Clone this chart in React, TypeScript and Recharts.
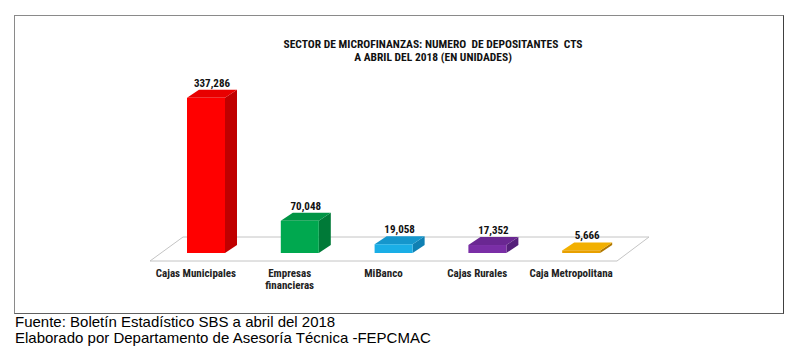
import React from "react";
import { BarChart, Bar, XAxis, YAxis, LabelList, ReferenceLine, Cell } from "recharts";

const categories = ["Cajas Municipales", "Empresas financieras", "MiBanco", "Cajas Rurales", "Caja Metropolitana"];
const depositantes = [337286, 70048, 19058, 17352, 5666];
const tickLabels = [["Cajas Municipales"], ["Empresas", "financieras"], ["MiBanco"], ["Cajas Rurales"], ["Caja Metropolitana"]];

const FRONT = ["#ff0000", "#00a84f", "#1aaee6", "#7a2ea6", "#e8a000"];
const SIDE = ["#c00000", "#007a38", "#0f80b3", "#55207a", "#b07800"];
const TOP = ["#e80000", "#009445", "#1596cc", "#6a2792", "#f2b000"];

const data = categories.map((name, i) => ({ name, value: depositantes[i] }));

const narrow = '"Liberation Sans Narrow", "Arial Narrow", "Roboto Condensed", sans-serif';

const DX = 12;
const DY = 8;

const Box3D = (props: any) => {
  const { x, y, width, height, index } = props;
  const fx = x - DX / 2;
  const r = fx + width;
  const b = y + height;
  return (
    <g>
      <polygon points={`${r},${y} ${r + DX},${y - DY} ${r + DX},${b - DY} ${r},${b}`} fill={SIDE[index]} />
      <polygon points={`${fx},${y} ${fx + DX},${y - DY} ${r + DX},${y - DY} ${r},${y}`} fill={TOP[index]} />
      <rect x={fx} y={y} width={width} height={height} fill={FRONT[index]} />
    </g>
  );
};

// floor of the 3D chart, drawn from the zero line
const Floor = (props: any) => {
  const { x1, x2, y1 } = props;
  const pts = [
    [x1 - 15, y1 + 8],
    [x2 - 17, y1 + 8],
    [x2 + 15, y1 - 16],
    [x1 + 18, y1 - 16],
  ];
  return <polygon points={pts.map((p) => p.join(",")).join(" ")} fill="#ffffff" stroke="#c4c4c4" strokeWidth={1} />;
};

const Tick = (props: any) => {
  const { x, y, index } = props;
  const lines = tickLabels[index] || [];
  return (
    <text x={x - 16} y={y + 16} textAnchor="middle" fontFamily={narrow} fontWeight="bold" fontSize={11} fill="#222">
      {lines.map((l, i) => (
        <tspan key={i} x={x - 16} dy={i === 0 ? 0 : 12}>
          {l}
        </tspan>
      ))}
    </text>
  );
};

const ValueLabel = (props: any) => {
  const { x, y, width, value } = props;
  return (
    <text x={x + width / 2} y={y - 11} textAnchor="middle" fontFamily={narrow} fontWeight="bold" fontSize={11} fill="#111">
      {Number(value).toLocaleString("en-US")}
    </text>
  );
};

export default function App() {
  return (
    <div style={{ position: "relative", margin: -8, width: 800, height: 357, background: "#fff" }}>
      <div
        style={{
          position: "absolute",
          left: 14,
          top: 15,
          width: 768,
          height: 297,
          borderTop: "1px solid #8a8a8a",
          borderLeft: "1px solid #8a8a8a",
          borderRight: "1px solid #404040",
          borderBottom: "1px solid #606060",
        }}
      />
      <div
        style={{
          position: "absolute",
          left: 233,
          top: 38,
          width: 400,
          textAlign: "center",
          fontFamily: narrow,
          fontWeight: "bold",
          fontSize: 11.5,
          lineHeight: "13px",
          color: "#111",
        }}
      >
        <div>SECTOR DE MICROFINANZAS: NUMERO&nbsp; DE DEPOSITANTES&nbsp; CTS</div>
        <div>A ABRIL DEL 2018 (EN UNIDADES)</div>
      </div>
      <div style={{ position: "absolute", left: 0, top: 0 }}>
        <BarChart width={800} height={357} data={data} margin={{ top: 69, right: 166, bottom: 74, left: 165 }}>
          <ReferenceLine y={0} shape={Floor} zIndex={-50} />
          <YAxis hide domain={[0, 400000]} />
          <XAxis dataKey="name" axisLine={false} tickLine={false} tick={<Tick />} interval={0} />
          <Bar dataKey="value" barSize={38} shape={<Box3D />} isAnimationActive={false}>
            {data.map((d, i) => (
              <Cell key={d.name} fill={FRONT[i]} />
            ))}
            <LabelList dataKey="value" content={<ValueLabel />} />
          </Bar>
        </BarChart>
      </div>
      <div
        style={{
          position: "absolute",
          left: 15,
          top: 314,
          fontFamily: '"Liberation Sans", Arial, sans-serif',
          fontSize: 15,
          lineHeight: "16px",
          color: "#000",
        }}
      >
        <div>Fuente: Boletín Estadístico SBS a abril del 2018</div>
        <div>Elaborado por Departamento de Asesoría Técnica -FEPCMAC</div>
      </div>
    </div>
  );
}
